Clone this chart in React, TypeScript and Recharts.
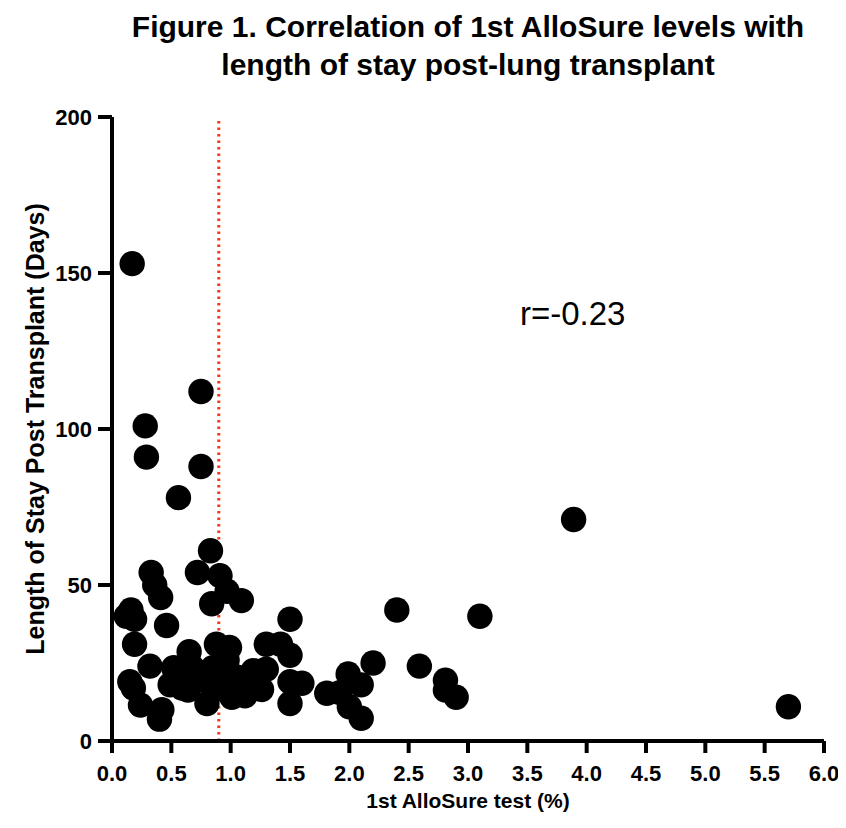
import { ScatterChart, Scatter, XAxis, YAxis, ReferenceLine } from "recharts";

const ALLOSURE = [
  0.17, 0.75, 0.28, 0.29, 0.75, 0.56, 0.83, 0.33, 0.72, 0.91, 0.36, 0.97, 0.41, 0.84, 1.09,
  0.16, 0.12, 0.19, 0.46, 1.5, 2.4, 3.1, 3.89, 5.7, 0.19, 0.32, 0.15, 0.18, 0.24, 0.42,
  0.4, 0.65, 0.88, 0.99, 0.52, 0.68, 0.59, 0.49, 0.64, 0.8, 1.01, 1.12, 0.97, 0.85, 1.05,
  1.19, 1.26, 1.3, 1.42, 1.5, 1.3, 1.2, 1.5, 1.6, 1.5, 1.81, 1.92, 1.99, 2.2, 2.1,
  2.0, 2.1, 2.59, 2.81, 2.81, 2.9, 0.9, 0.9, 0.78, 0.95, 0.62,
];
const LENGTH_OF_STAY = [
  153, 112, 101, 91, 88, 78, 61, 54, 54, 53, 50, 48, 46, 44, 45,
  42, 40, 39, 37, 39, 42, 40, 71, 11, 31, 24, 19, 17, 11.5, 10,
  7, 28.6, 31, 30, 23.5, 23.5, 17, 18, 16.3, 12, 14, 14.5, 26, 23.5, 20.5,
  22.5, 16.5, 31, 31, 27.5, 23, 18.6, 19, 18.5, 12, 15.3, 15.5, 21.5, 25, 18,
  11, 7.3, 24, 19.5, 16.3, 14, 22, 17, 19.5, 20, 20,
];
const X_TICKS = [0, 0.5, 1, 1.5, 2, 2.5, 3, 3.5, 4, 4.5, 5, 5.5, 6];
const Y_TICKS = [0, 50, 100, 150, 200];
const CUTOFF = 0.9;

const points = ALLOSURE.map((x, i) => ({ x, y: LENGTH_OF_STAY[i] }));

const FONT = "'Liberation Sans', Arial, Helvetica, sans-serif";
const tickStyle = { fill: "#000", fontSize: 22, fontWeight: 700, fontFamily: FONT };

const Dot = (props: any) => <circle cx={props.cx} cy={props.cy} r={12.7} fill="#000" />;

export default function App() {
  return (
    <div style={{ position: "relative", width: 830, height: 812, fontFamily: FONT }}>
      <div
        style={{
          position: "absolute",
          left: 60,
          top: 0,
          width: 800,
          textAlign: "center",
          fontSize: 30,
          fontWeight: 700,
          lineHeight: "38px",
        }}
      >
        Figure 1. Correlation of 1st AlloSure levels with
        <br />
        length of stay post-lung transplant
      </div>

      <ScatterChart width={830} height={812} margin={{ top: 109, right: 14, bottom: 0, left: 0 }}>
        <XAxis
          type="number"
          dataKey="x"
          domain={[0, 6]}
          ticks={X_TICKS}
          tickFormatter={(v) => v.toFixed(1)}
          tick={tickStyle}
          axisLine={{ stroke: "#000", strokeWidth: 4 }}
          tickLine={{ stroke: "#000", strokeWidth: 4 }}
          tickSize={12}
          tickMargin={12}
          height={79}
          interval={0}
        />
        <YAxis
          type="number"
          dataKey="y"
          domain={[0, 200]}
          ticks={Y_TICKS}
          tick={tickStyle}
          axisLine={{ stroke: "#000", strokeWidth: 4 }}
          tickLine={{ stroke: "#000", strokeWidth: 4 }}
          tickSize={14}
          tickMargin={6}
          width={104}
          interval={0}
        />
        <ReferenceLine
          x={CUTOFF}
          stroke="#f2381a"
          strokeWidth={3}
          strokeDasharray="2.5 4"
        />
        <Scatter data={points} shape={Dot} isAnimationActive={false} />
      </ScatterChart>

      <div
        style={{
          position: "absolute",
          left: 512,
          top: 287,
          fontSize: 33,
          fontWeight: 400,
        }}
      >
        r=-0.23
      </div>

      <div
        style={{
          position: "absolute",
          left: 104,
          top: 781,
          width: 712,
          textAlign: "center",
          fontSize: 21,
          fontWeight: 700,
        }}
      >
        1st AlloSure test (%)
      </div>

      <div
        style={{
          position: "absolute",
          left: 27,
          top: 421,
          width: 0,
          height: 0,
        }}
      >
        <div
          style={{
            position: "absolute",
            transform: "translate(-50%, -50%) rotate(-90deg)",
            whiteSpace: "nowrap",
            fontSize: 25,
            fontWeight: 700,
          }}
        >
          Length of Stay Post Transplant (Days)
        </div>
      </div>
    </div>
  );
}
